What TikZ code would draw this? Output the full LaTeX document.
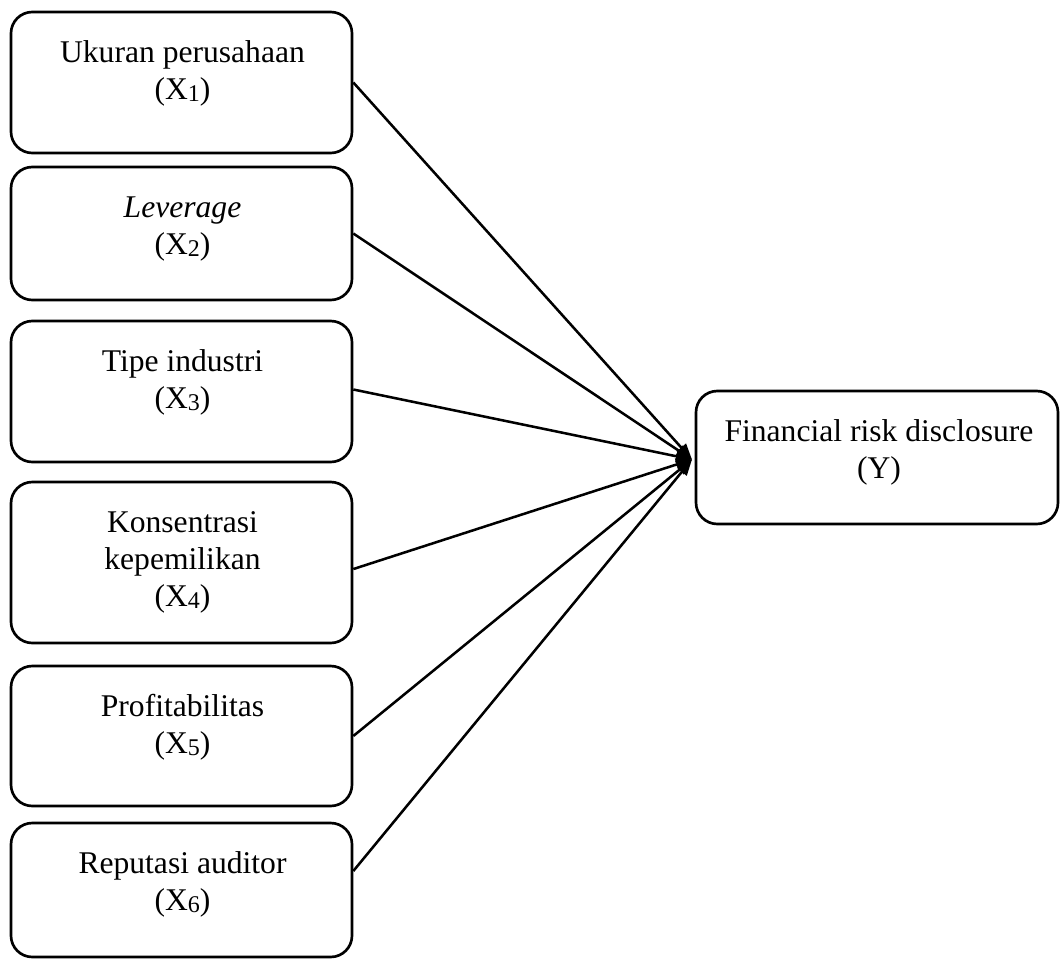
\documentclass[tikz,border=0pt]{standalone}
\usepackage{fontspec}
\setmainfont{Liberation Serif}
\usetikzlibrary{arrows.meta}
\newcommand{\vsub}[1]{\raisebox{-0.07em}{\fontsize{18pt}{18pt}\selectfont #1}}
\newcommand{\firstln}{\rule{0pt}{17pt}}
\begin{document}
\begin{tikzpicture}[x=0.75pt,y=-0.75pt,
  varbox/.style={draw, line width=2pt, rounded corners=16pt, minimum width=341*0.75pt, inner sep=0pt},
  vartext/.style={anchor=north, align=center, inner sep=0pt, font=\fontsize{23.7pt}{27.75pt}\selectfont},
  link/.style={line width=1.9pt, -{Triangle[length=12pt,width=9pt]}}]
\useasboundingbox (0,0) rectangle (1060,960);
% boxes
\node[varbox, minimum height=141*0.75pt] (b1) at (181.5,82.5) {};
\node[varbox, minimum height=133*0.75pt] (b2) at (181.5,233.5) {};
\node[varbox, minimum height=141*0.75pt] (b3) at (181.5,391.5) {};
\node[varbox, minimum height=161*0.75pt] (b4) at (181.5,562.5) {};
\node[varbox, minimum height=140*0.75pt] (b5) at (181.5,736) {};
\node[varbox, minimum height=134*0.75pt] (b6) at (181.5,890) {};
\node[varbox, minimum width=362*0.75pt, minimum height=133*0.75pt] (y) at (877,457.5) {};
% texts
\node[vartext] (t1) at (182.5,39.3) {\firstln Ukuran perusahaan\\(X\vsub{1})};
\node[vartext] (t2) at (182.5,194.3) {\firstln\textit{Leverage}\\(X\vsub{2})};
\node[vartext] (t3) at (182.5,348.3) {\firstln Tipe industri\\(X\vsub{3})};
\node[vartext] (t4) at (182.5,509.3) {\firstln Konsentrasi\\kepemilikan\\(X\vsub{4})};
\node[vartext] (t5) at (182.5,693.3) {\firstln Profitabilitas\\(X\vsub{5})};
\node[vartext] (t6) at (182.5,850.3) {\firstln Reputasi auditor\\(X\vsub{6})};
\node[vartext] (ty) at (879,418.3) {\firstln Financial risk disclosure\\(Y)};
% connectors
\coordinate (tip) at ([xshift=-2pt,yshift=-1.5pt]y.west);
\draw[link] (b1.east) -- (tip);
\draw[link] (b2.east) -- (tip);
\draw[link] ([yshift=1.5pt]b3.east) -- (tip);
\draw[link] ([yshift=-4.9pt]b4.east) -- (tip);
\draw[link] (b5.east) -- (tip);
\draw[link] ([yshift=14.25pt]b6.east) -- (tip);
\end{tikzpicture}
\end{document}
